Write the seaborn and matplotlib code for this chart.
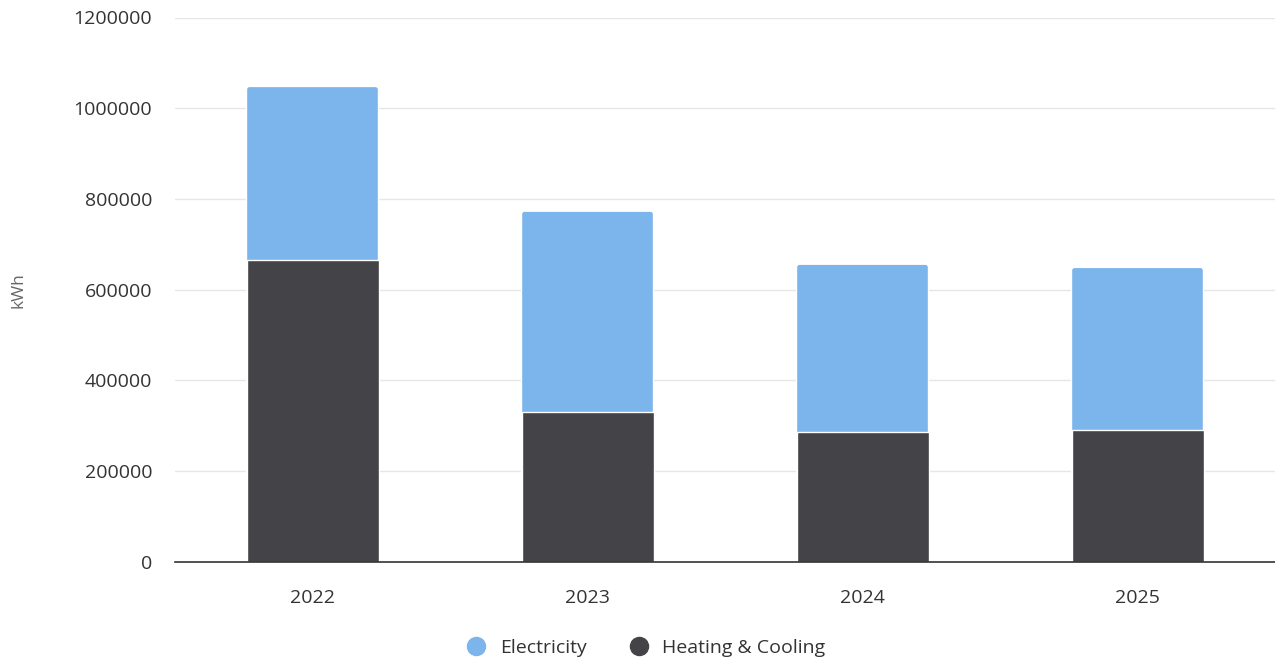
import matplotlib
matplotlib.use("Agg")
import matplotlib.pyplot as plt
from matplotlib.patches import FancyBboxPatch
from matplotlib.lines import Line2D
import seaborn as sns
import pandas as pd

years = ["2022", "2023", "2024", "2025"]
heating_cooling = [665000, 329000, 287000, 290000]
electricity = [383000, 444000, 369000, 359000]
y_ticks = [0, 200000, 400000, 600000, 800000, 1000000, 1200000]

ELEC_COLOR = "#7cb5ec"
HEAT_COLOR = "#434348"

sns.set_theme(style="white")
plt.rcParams["font.family"] = ["Open Sans", "DejaVu Sans"]

totals = [h + e for h, e in zip(heating_cooling, electricity)]
df = pd.DataFrame({"year": years, "heating": heating_cooling, "total": totals})

fig = plt.figure(figsize=(12.75, 6.64), dpi=100)
ax = fig.add_axes([175 / 1275, 1 - 561.7 / 664, 1 - 175 / 1275, (561.7 - 17.5) / 664])

# full stack height in the electricity colour, heating drawn over it
sns.barplot(data=df, x="year", y="total", color=ELEC_COLOR, width=0.48,
            saturation=1, edgecolor="white", linewidth=1, ax=ax)
n_first = len(ax.patches)
sns.barplot(data=df, x="year", y="heating", color=HEAT_COLOR, width=0.48,
            saturation=1, edgecolor="white", linewidth=1, ax=ax)
for p in ax.patches[n_first:]:
    p.set_zorder(3)

ax.set_ylim(0, 1200000)
ax.set_xlim(-0.5, 3.5)

# rounded tops on the stacks
x_per_px = 4 / 1100
y_per_px = 1200000 / 544.2
for p in list(ax.patches[:n_first]):
    x0, y0 = p.get_x(), p.get_y()
    w, h = p.get_width(), p.get_height()
    rp = FancyBboxPatch((x0, y0), w, h,
                        boxstyle=f"round,pad=0,rounding_size={3 * x_per_px}",
                        mutation_aspect=y_per_px / x_per_px,
                        facecolor=ELEC_COLOR, edgecolor="white", linewidth=1,
                        zorder=2)
    p.remove()
    ax.add_patch(rp)

ax.set_yticks(y_ticks)
ax.set_yticklabels([str(v) for v in y_ticks])
ax.yaxis.grid(True, color="#e6e6e6", linewidth=1)
ax.set_axisbelow(True)
for s in ["top", "right", "left"]:
    ax.spines[s].set_visible(False)
ax.spines["bottom"].set_color("#333333")
ax.spines["bottom"].set_linewidth(1.2)
ax.spines["bottom"].set_zorder(4)
ax.tick_params(axis="both", length=0, labelsize=14, colors="#333333")
ax.tick_params(axis="x", pad=20)
ax.tick_params(axis="y", pad=16.5)
ax.set_xlabel("")
ax.set_ylabel("")
fig.text(18 / 1275, 1 - 290 / 664, "kWh", rotation=90, ha="center", va="center",
         fontsize=12.5, color="#666666")

handles = [Line2D([], [], marker="o", linestyle="", markersize=13,
                  markerfacecolor=ELEC_COLOR, markeredgecolor=ELEC_COLOR),
           Line2D([], [], marker="o", linestyle="", markersize=13,
                  markerfacecolor=HEAT_COLOR, markeredgecolor=HEAT_COLOR)]
leg = fig.legend(handles, ["Electricity", "Heating & Cooling"], loc="center",
                 bbox_to_anchor=(645 / 1275, 1 - 648 / 664), ncol=2, frameon=False,
                 fontsize=14, handletextpad=0.6, columnspacing=2.1, handlelength=1.2)
for t in leg.get_texts():
    t.set_color("#333333")

fig.savefig("out.png", dpi=100)
